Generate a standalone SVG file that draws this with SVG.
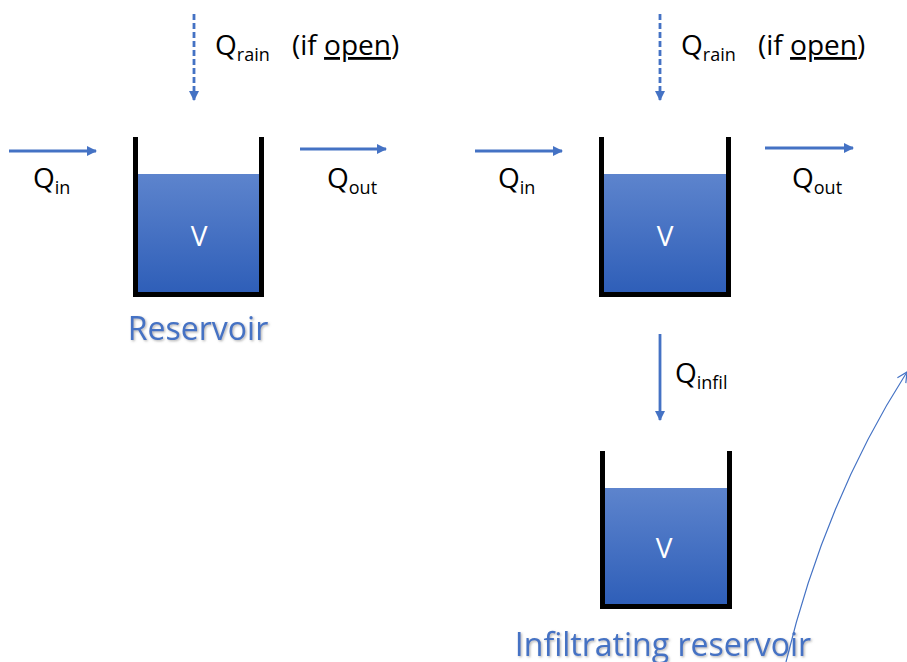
<svg xmlns="http://www.w3.org/2000/svg" width="907" height="662" viewBox="0 0 907 662">
  <defs>
    <linearGradient id="water" x1="0" y1="0" x2="0" y2="1">
      <stop offset="0" stop-color="#5d84cd"/>
      <stop offset="1" stop-color="#2e5eb8"/>
    </linearGradient>
    <marker id="head" viewBox="0 0 10 10" refX="9" refY="5" markerWidth="3.6" markerHeight="3.6" orient="auto" markerUnits="strokeWidth">
      <path d="M0 0 L10 5 L0 10 Z" fill="#4472c4"/>
    </marker>
    <marker id="openhead" viewBox="0 0 12 12" refX="11" refY="6" markerWidth="12" markerHeight="12" orient="auto" markerUnits="userSpaceOnUse">
      <path d="M1 1 L11 6 L1 11" fill="none" stroke="#4472c4" stroke-width="1.2"/>
    </marker>
    <filter id="shadow" x="-5%" y="-20%" width="110%" height="150%">
      <feDropShadow dx="1.2" dy="1.2" stdDeviation="0.8" flood-color="#7f7f7f" flood-opacity="0.6"/>
    </filter>
  </defs>
  <style>
    .lbl { font-family: "Open Sans", "Liberation Sans", sans-serif; font-size: 28px; fill: #000; }
    .sub { font-size: 18px; }
    .vol { font-family: "Open Sans", "Liberation Sans", sans-serif; font-size: 28px; fill: #fff; text-anchor: middle; }
    .title { font-family: "Open Sans", "Liberation Sans", sans-serif; font-size: 32px; fill: #4472c4; text-anchor: middle; filter: url(#shadow); }
    .wall { fill: none; stroke: #000; stroke-width: 5; stroke-linejoin: miter; }
    .flow { fill: none; stroke: #4472c4; stroke-width: 2.8; marker-end: url(#head); }
    .rain { stroke-dasharray: 6 3; }
  </style>

  <!-- Reservoir -->
  <g id="reservoir">
    <rect x="138" y="174" width="121" height="120" fill="url(#water)"/>
    <path class="wall" d="M135.5 137 V294.5 H261.5 V137"/>
    <text class="vol" x="199" y="246">V</text>
    <text class="title" x="198" y="340">Reservoir</text>
  </g>

  <!-- Infiltrating reservoir, upper tank -->
  <g id="infil-upper">
    <rect x="604" y="174" width="122" height="120" fill="url(#water)"/>
    <path class="wall" d="M601.5 137 V294.5 H728.5 V137"/>
    <text class="vol" x="665" y="246">V</text>
  </g>

  <!-- Infiltrating reservoir, lower tank -->
  <g id="infil-lower">
    <rect x="605" y="488" width="122" height="118" fill="url(#water)"/>
    <path class="wall" d="M602.5 451 V606.5 H729.5 V451"/>
    <text class="vol" x="664" y="558">V</text>
    <text class="title" x="663" y="656">Infiltrating reservoir</text>
  </g>

  <!-- Flow labels -->
  <g id="labels">
    <text class="lbl" x="33" y="188">Q<tspan class="sub" dy="6">in</tspan></text>
    <text class="lbl" x="327" y="188">Q<tspan class="sub" dy="6">out</tspan></text>
    <text class="lbl" x="215" y="55">Q<tspan class="sub" dy="6">rain</tspan></text>
    <text class="lbl" x="292" y="55">(if <tspan text-decoration="underline">open</tspan>)</text>

    <text class="lbl" x="498" y="188">Q<tspan class="sub" dy="6">in</tspan></text>
    <text class="lbl" x="792" y="188">Q<tspan class="sub" dy="6">out</tspan></text>
    <text class="lbl" x="681" y="55">Q<tspan class="sub" dy="6">rain</tspan></text>
    <text class="lbl" x="758" y="55">(if <tspan text-decoration="underline">open</tspan>)</text>

    <text class="lbl" x="675" y="383">Q<tspan class="sub" dy="6">infil</tspan></text>
  </g>

  <!-- Connectors -->
  <g id="connectors">
    <line class="flow" x1="9" y1="151" x2="96" y2="151"/>
    <line class="flow" x1="300" y1="149" x2="386" y2="149"/>
    <line class="flow rain" x1="194" y1="14" x2="194" y2="100"/>

    <line class="flow" x1="475" y1="151" x2="562" y2="151"/>
    <line class="flow" x1="765" y1="148" x2="853" y2="148"/>
    <line class="flow rain" x1="660" y1="14" x2="660" y2="100"/>

    <line class="flow" x1="660" y1="334" x2="660" y2="420"/>

    <path d="M786 662 Q825 500 907 372" fill="none" stroke="#4472c4" stroke-width="1.2" marker-end="url(#openhead)"/>
  </g>
</svg>
